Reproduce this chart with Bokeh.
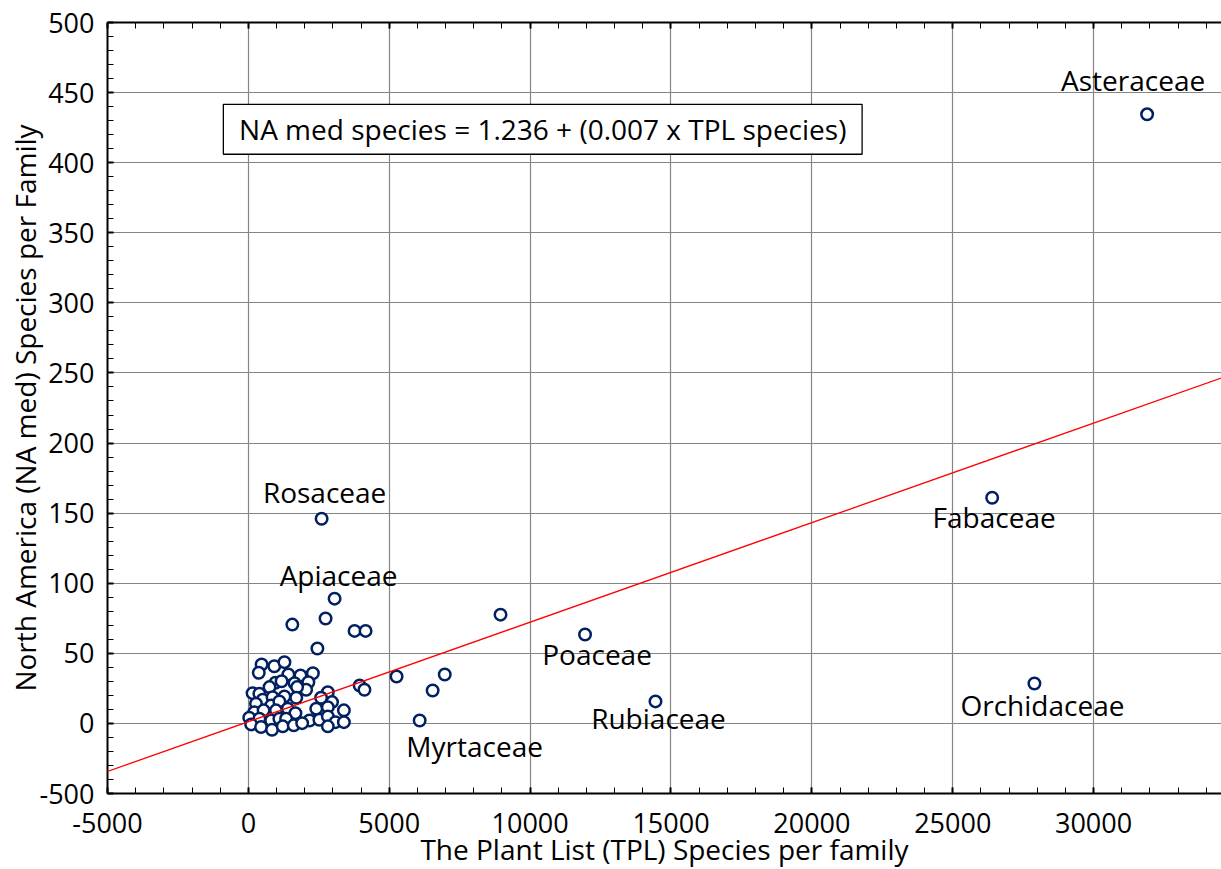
from bokeh.plotting import figure
from bokeh.models import (ColumnDataSource, Range1d, SingleIntervalTicker, LinearAxis,
                          Slope, BoxAnnotation, Label, CustomJSTickFormatter)
from bokeh.core.properties import value
from bokeh.embed import file_html
from bokeh.resources import INLINE

# ---- data ----
family_names = ["Asteraceae", "Fabaceae", "Orchidaceae", "Rubiaceae",
                "Poaceae", "Myrtaceae", "Rosaceae", "Apiaceae"]
family_tpl = [31900, 26400, 27900, 14450, 11950, 6080, 2600, 3060]
family_na = [434.5, 161, 28.5, 15.7, 63.4, 2.1, 146, 89]

other_tpl = [8950, 6970, 6540, 5260, 3950, 4120, 2740, 1560, 3770, 4160, 2450,
             470, 370, 920, 1280, 1420, 1850, 2290, 960, 1180, 1640, 2130,
             750, 2050, 1730, 150, 390, 2820, 510, 860, 1280, 1700, 2580,
             270, 810, 1100, 2970, 210, 540, 980, 1400, 1670, 2410, 2820, 3390,
             30, 390, 810, 1100, 1340, 2170, 2520, 2820, 3090, 3390,
             100, 450, 840, 1220, 1610, 1910, 2820]
other_na = [77.6, 34.9, 23.5, 33.5, 27, 24, 74.8, 70.5, 66, 66, 53.4,
            42.0, 36.1, 40.8, 43.7, 34.9, 34.2, 35.8, 29.0, 30.1, 28.7, 29.4,
            25.9, 24.0, 25.9, 21.6, 21.2, 22.3, 16.9, 18.7, 19.2, 18.3, 18.3,
            14.0, 12.8, 15.7, 15.2, 8.0, 9.3, 9.3, 10.5, 7.3, 10.5, 11.6, 9.3,
            4.1, 3.3, 2.1, 3.3, 3.3, 2.1, 2.6, 5.0, 0.9, 0.9,
            -0.7, -2.6, -4.5, -2.1, -1.4, 0.2, -2.1]

fit_intercept = 1.236
fit_slope = 0.0071
equation_text = "NA med species = 1.236 + (0.007 x TPL species)"

x_title = "The Plant List (TPL) Species per family"
y_title = "North America (NA med) Species per Family"

# ---- layout / style (not data) ----
label_dx = [-14, 2, 8, 3, 12, 55, 3, 4]
label_dy = [-34, 19, 22, 17, 19, 26, -27, -24]

FONT = "Open Sans"
NAVY = "#002060"

p = figure(frame_width=1114, frame_height=771,
           x_range=Range1d(-5000, 34540), y_range=Range1d(-50, 500),
           output_backend="svg", toolbar_location=None,
           min_border_left=107, min_border_top=22, min_border_right=0,
           min_border_bottom=40)
p.outline_line_color = None
p.background_fill_color = "white"
p.border_fill_color = "white"

xt = SingleIntervalTicker(interval=5000, num_minor_ticks=5)
yt = SingleIntervalTicker(interval=50, num_minor_ticks=5)
p.xaxis.ticker = xt
p.yaxis.ticker = yt
p.xgrid.ticker = xt
p.ygrid.ticker = yt
p.grid.grid_line_color = "#858585"
p.grid.grid_line_width = 1.2

for ax in (p.xaxis[0], p.yaxis[0]):
    ax.axis_line_color = "black"
    ax.axis_line_width = 2
    ax.major_tick_in = 6
    ax.major_tick_out = 0
    ax.minor_tick_in = 6
    ax.minor_tick_out = 0
    ax.major_tick_line_color = "black"
    ax.major_tick_line_width = 2
    ax.minor_tick_line_color = "black"
    ax.minor_tick_line_width = 1
    ax.major_label_text_font = FONT
    ax.major_label_text_font_size = "27px"
    ax.major_label_text_color = "black"
    ax.axis_label_text_font = FONT
    ax.axis_label_text_font_size = "28px"
    ax.axis_label_text_font_style = "normal"
    ax.axis_label_text_color = "black"

p.xaxis.axis_label = x_title
p.yaxis.axis_label = y_title
p.xaxis.major_label_standoff = 19
p.yaxis.major_label_standoff = 13
p.xaxis.axis_label_standoff = -6
p.yaxis.axis_label_standoff = -8
p.xaxis.major_label_overrides = {-5000: "-5000"}
p.yaxis.major_label_overrides = {-50: "-500"}

top = LinearAxis(ticker=xt, formatter=CustomJSTickFormatter(code="return ''"),
                 major_label_text_font_size="8px", major_label_standoff=0,
                 axis_line_color="black", axis_line_width=2,
                 major_tick_in=6, major_tick_out=0, minor_tick_in=6, minor_tick_out=0,
                 major_tick_line_width=2)
p.add_layout(top, "above")

# regression line
p.add_layout(Slope(gradient=fit_slope, y_intercept=fit_intercept,
                   line_color="red", line_width=1.3))

# points
src_o = ColumnDataSource(dict(x=other_tpl, y=other_na))
p.scatter("x", "y", source=src_o, size=11.5, marker="circle", fill_color="white",
          line_color=NAVY, line_width=2.5)
src_f = ColumnDataSource(dict(x=family_tpl, y=family_na, name=family_names,
                              dx=label_dx, dy=label_dy))
p.scatter("x", "y", source=src_f, size=11.5, marker="circle", fill_color="white",
          line_color=NAVY, line_width=2.5)
p.text("x", "y", text="name", source=src_f, x_offset="dx", y_offset="dy",
       text_align="center", text_baseline="middle",
       text_font=value(FONT), text_font_size="28px", text_color="black")

# equation box
p.add_layout(BoxAnnotation(left=-888, right=21784, bottom=406, top=441.6,
                           fill_color="white", fill_alpha=1,
                           line_color="black", line_alpha=1, line_width=1.3))
p.add_layout(Label(x=10448, y=423.8, text=equation_text, text_align="center",
                   text_baseline="middle", text_font=FONT, text_font_size="28px",
                   text_color="black"))

open("out.html", "w").write(file_html(p, INLINE))
